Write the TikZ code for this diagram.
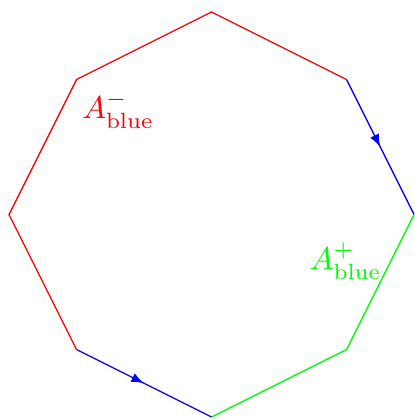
\documentclass[tikz,border=0pt]{standalone}
\usetikzlibrary{decorations.markings,arrows}
\begin{document}
\begin{tikzpicture}[x=1.5cm,y=1.5cm,
  midarrow/.style={postaction={decorate},decoration={markings,mark=at position 0.5 with {\arrow{latex}}}}]
\useasboundingbox (-1.567,-1.522) rectangle (1.5,1.589);
\coordinate (t) at (0,1.5);
\coordinate (tr) at (1,1);
\coordinate (r) at (1.5,0);
\coordinate (br) at (1,-1);
\coordinate (b) at (0,-1.5);
\coordinate (bl) at (-1,-1);
\coordinate (l) at (-1.5,0);
\coordinate (tl) at (-1,1);
\draw[red] (bl) -- (l) -- (tl) -- (t) -- (tr);
\draw[blue,midarrow] (tr) -- (r);
\draw[green] (r) -- (br) -- (b);
\draw[blue,midarrow] (bl) -- (b);
\node[red] (am) at (-0.692,0.775) {$A^-_{\mathrm{blue}}$};
\node[green] (ap) at (0.994,-0.345) {$A^+_{\mathrm{blue}}$};
\end{tikzpicture}
\end{document}
